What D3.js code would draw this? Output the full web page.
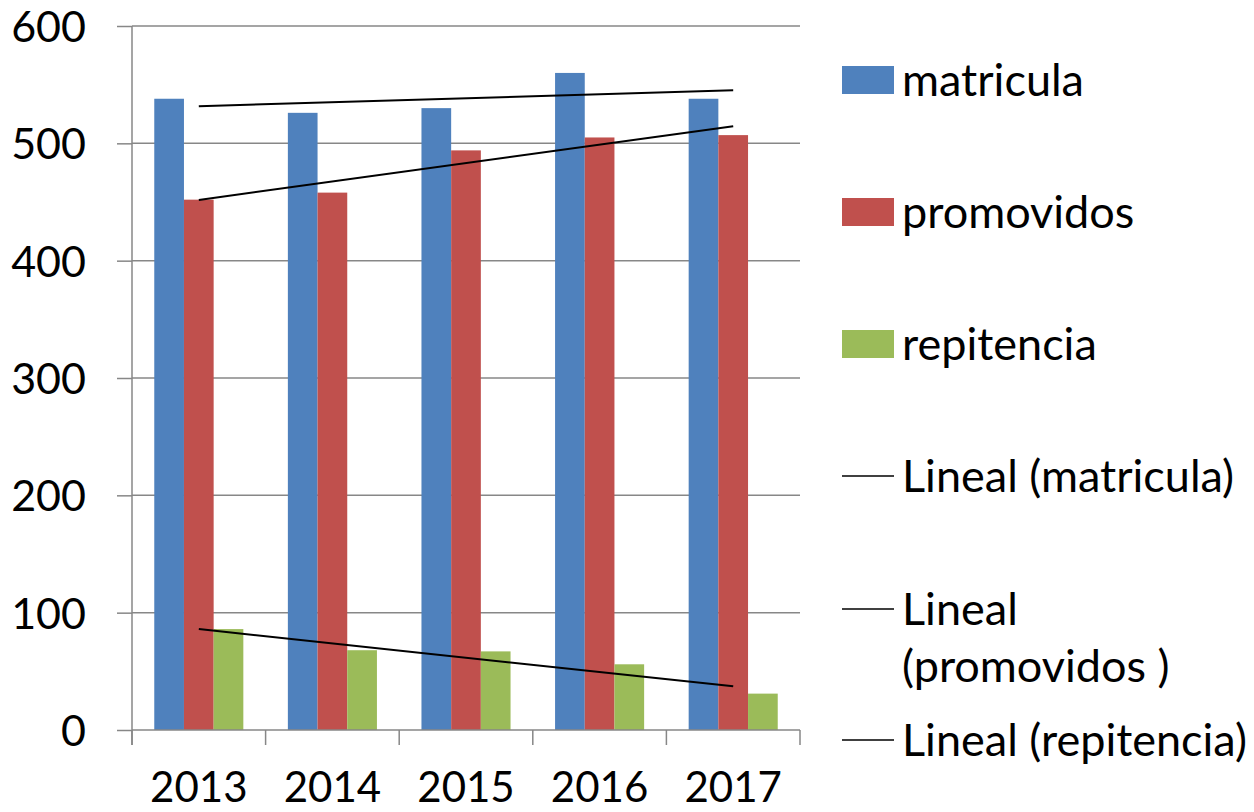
<!DOCTYPE html>
<html><head><meta charset="utf-8">
<script src="https://cdn.jsdelivr.net/npm/d3@7"></script>
<style>
html,body{margin:0;padding:0;background:#fff;overflow:hidden}
text{font-family:Lato,"Open Sans",sans-serif;fill:#000}
</style></head>
<body><svg id="c" width="1254" height="812"></svg>
<script>
const years = ["2013","2014","2015","2016","2017"];
const matricula = [538,526,530,560,538];
const promovidos = [452,458,494,505,507];
const repitencia = [86,68,67,56,31];
const seriesNames = ["matricula","promovidos","repitencia"];
const seriesColors = ["#4F81BD","#C0504D","#9BBB59"];
const trendNames = ["Lineal (matricula)","Lineal (promovidos )","Lineal (repitencia)"];
const yTicks = [0,100,200,300,400,500,600];

const seriesData = [matricula, promovidos, repitencia];
const svg = d3.select("#c");
const L = 132, R = 800, T = 26, B = 730;

const x = d3.scaleBand().domain(years).range([L,R]).paddingInner(0).paddingOuter(0);
const y = d3.scaleLinear().domain([0,600]).range([B,T]);
const bw = x.bandwidth()/4.5;
const xs = d3.scaleBand().domain(seriesNames).range([0,3*bw]);

// gridlines
svg.append("g").selectAll("line").data(yTicks.filter(d=>d>0)).join("line")
  .attr("x1",L).attr("x2",R).attr("y1",d=>y(d)).attr("y2",d=>y(d))
  .attr("stroke","#878787").attr("stroke-width",1.5);

// bars
seriesData.forEach((vals,si)=>{
  svg.append("g").selectAll("rect").data(vals).join("rect")
    .attr("x",(d,i)=>x(years[i]) + 0.75*bw + xs(seriesNames[si]))
    .attr("y",d=>y(d)).attr("width",bw).attr("height",d=>B-y(d))
    .attr("fill",seriesColors[si]);
});

// y axis
const yAxis = d3.axisLeft(y).tickValues(yTicks).tickSize(15).tickPadding(31).tickFormat(d3.format("d"));
const gy = svg.append("g").attr("transform",`translate(${L},0)`).call(yAxis);
gy.select(".domain").remove();
gy.selectAll(".tick line").attr("stroke","#878787").attr("stroke-width",1.5);
gy.selectAll(".tick text").attr("font-size",43).attr("font-family","Lato").attr("fill","#000").attr("dy","0.36em");
svg.append("line").attr("x1",L).attr("x2",L).attr("y1",T).attr("y2",B+15).attr("stroke","#878787").attr("stroke-width",1.5);

// x axis
svg.append("line").attr("x1",L).attr("x2",R).attr("y1",B).attr("y2",B).attr("stroke","#878787").attr("stroke-width",1.5);
const bounds = years.map(d=>x(d)).concat([R]);
svg.append("g").selectAll("line").data(bounds).join("line")
  .attr("x1",d=>d).attr("x2",d=>d).attr("y1",B).attr("y2",B+15)
  .attr("stroke","#878787").attr("stroke-width",1.5);
svg.append("g").selectAll("text").data(years).join("text")
  .attr("x",d=>x(d)+x.bandwidth()/2).attr("y",802)
  .attr("text-anchor","middle").attr("font-size",42)
  .text(d=>d);

// trend lines (linear regression)
function fit(vals){
  const xsv=vals.map((d,i)=>i+1);
  const mx=d3.mean(xsv), my=d3.mean(vals);
  const s=d3.sum(vals.map((v,i)=>(xsv[i]-mx)*(v-my)))/d3.sum(xsv.map(v=>(v-mx)**2));
  return k=>my+s*(k-mx);
}
seriesData.forEach(vals=>{
  const f=fit(vals);
  svg.append("line")
    .attr("x1",x(years[0])+x.bandwidth()/2).attr("y1",y(f(1)))
    .attr("x2",x(years[4])+x.bandwidth()/2).attr("y2",y(f(5)))
    .attr("stroke","#000").attr("stroke-width",2);
});

// legend
const lx=842, tx=902, fs=45;
const rows=[80,212,344,476,609,740];
seriesNames.forEach((n,i)=>{
  svg.append("rect").attr("x",lx).attr("y",rows[i]-14).attr("width",52).attr("height",28).attr("fill",seriesColors[i]);
  svg.append("text").attr("x",tx).attr("y",rows[i]).attr("dy","0.36em").attr("font-size",fs).text(n);
});
trendNames.forEach((n,i)=>{
  const r=rows[3+i];
  svg.append("line").attr("x1",lx).attr("x2",lx+52).attr("y1",r).attr("y2",r).attr("stroke","#000").attr("stroke-width",1.5);
  if(i===1){
    const t=svg.append("text").attr("x",tx).attr("y",r).attr("dy","0.36em").attr("font-size",fs);
    t.append("tspan").attr("x",tx).text("Lineal");
    t.append("tspan").attr("x",tx).attr("dy",57).text("(promovidos )");
  } else {
    svg.append("text").attr("x",tx).attr("y",r).attr("dy","0.36em").attr("font-size",fs).text(n);
  }
});
</script></body></html>
